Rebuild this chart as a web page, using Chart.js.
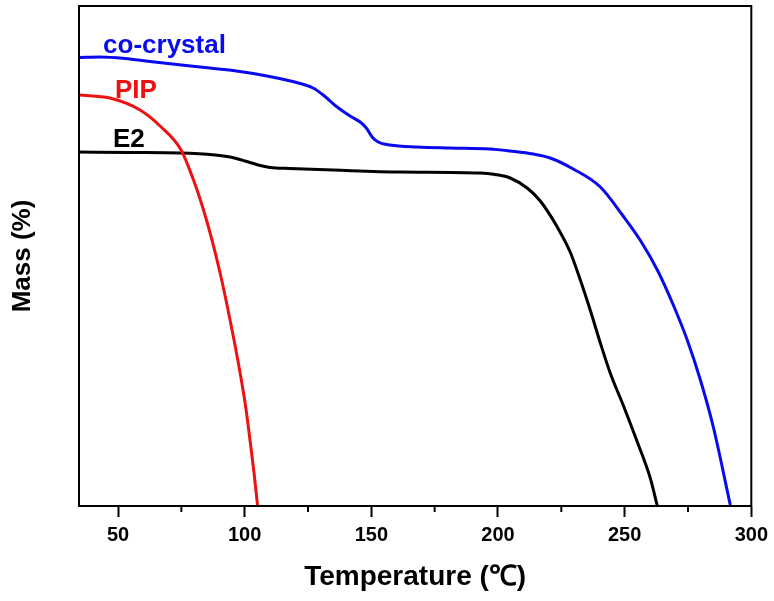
<!DOCTYPE html>
<html>
<head>
<meta charset="utf-8">
<script src="https://cdn.jsdelivr.net/npm/chart.js@4/dist/chart.umd.min.js"></script>
<style>
  body { margin: 0; background: #fff; }
  canvas { display: block; }
</style>
</head>
<body>
<canvas id="tga" width="774" height="601"></canvas>
<script>
// TGA curves
const pipTemp = [34.6, 46.8, 58.7, 66.6, 74.9, 79.8, 83.4, 87.1, 90.3, 93.2, 95.8, 98.2, 100.4, 102.1, 103.7, 105.1];
const pipMass = [82.2, 81.6, 79.2, 76.0, 71.2, 65.2, 59.8, 53.2, 46.6, 39.8, 33.2, 26.6, 19.8, 13.2, 6.6, 0];

const e2Temp = [34.6, 54.7, 74.5, 88.3, 94.2, 100.2, 105.3, 110.0, 117.9, 134.9, 161.4, 193.0, 198.9, 204.8, 211.5, 216.7, 223.4, 228.5, 232.5, 236.4, 240.4, 244.3, 249.4, 255.0, 260.1, 262.9];
const e2Mass = [70.8, 70.7, 70.6, 70.2, 69.8, 69.0, 68.2, 67.7, 67.5, 67.2, 66.8, 66.6, 66.3, 65.6, 63.6, 61.0, 55.8, 50.8, 45.2, 39.2, 32.6, 26.6, 20.2, 12.8, 5.6, 0];

const coTemp = [34.6, 42.9, 52.8, 62.6, 82.4, 95.4, 108.8, 121.9, 127.0, 131.0, 136.5, 141.6, 145.6, 148.0, 150.3, 152.7, 157.4, 168.1, 181.1, 196.9, 204.8, 213.9, 220.6, 229.7, 240.4, 249.4, 256.1, 262.9, 269.2, 274.7, 279.9, 285.0, 291.7];
const coMass = [89.7, 89.8, 89.5, 88.9, 87.8, 87.1, 86.0, 84.5, 83.6, 82.2, 79.8, 78.0, 76.8, 75.6, 73.8, 72.8, 72.2, 71.8, 71.6, 71.4, 71.0, 70.4, 69.6, 67.4, 63.8, 58.0, 53.2, 47.2, 40.2, 33.2, 25.2, 15.8, 0.2];

const xTicks = [50, 75, 100, 125, 150, 175, 200, 225, 250, 275, 300];
const xMin = 34.6, xMax = 300;

// in-plot labels: text, colour, anchor (temperature, mass)
const labelText = ['co-crystal', 'PIP', 'E2'];
const labelColor = ['#0a0aee', '#ee1111', '#000000'];
const labelT = [44.1, 48.8, 48.0];
const labelM = [90.7, 81.6, 71.9];

const toPoints = (xs, ys) => xs.map((x, i) => ({ x: x, y: ys[i] }));
const isMajor = v => v % 50 === 0;

// frame around the plot + short minor ticks
const framePlugin = {
    id: 'frame',
    afterDraw(chart) {
        const { ctx, chartArea: a } = chart;
        const xs = chart.scales.x;
        ctx.save();
        ctx.strokeStyle = '#000';
        ctx.lineWidth = 2;
        ctx.strokeRect(a.left, a.top, a.right - a.left, a.bottom - a.top);
        ctx.beginPath();
        xTicks.filter(v => !isMajor(v)).forEach(v => {
            const px = xs.getPixelForValue(v);
            ctx.moveTo(px, a.bottom);
            ctx.lineTo(px, a.bottom + 6);
        });
        ctx.stroke();
        ctx.restore();
    }
};

const labelPlugin = {
    id: 'seriesLabels',
    afterDatasetsDraw(chart) {
        const { ctx } = chart;
        const xs = chart.scales.x, ys = chart.scales.y;
        ctx.save();
        ctx.font = 'bold 26px "Liberation Sans", Arial, sans-serif';
        ctx.textBaseline = 'alphabetic';
        ctx.textAlign = 'left';
        labelText.forEach((t, i) => {
            ctx.fillStyle = labelColor[i];
            ctx.fillText(t, xs.getPixelForValue(labelT[i]), ys.getPixelForValue(labelM[i]));
        });
        ctx.restore();
    }
};

const lineStyle = color => ({
    borderColor: color,
    backgroundColor: color,
    borderWidth: 3,
    pointRadius: 0,
    fill: false,
    cubicInterpolationMode: 'monotone'
});

new Chart(document.getElementById('tga'), {
    type: 'line',
    data: {
        datasets: [
            { label: 'PIP', data: toPoints(pipTemp, pipMass), ...lineStyle('#ee1111') },
            { label: 'E2', data: toPoints(e2Temp, e2Mass), ...lineStyle('#000000') },
            { label: 'co-crystal', data: toPoints(coTemp, coMass), ...lineStyle('#0a0aee') }
        ]
    },
    options: {
        responsive: false,
        animation: false,
        layout: { padding: { top: 6, right: 22, left: 0, bottom: 0 } },
        plugins: {
            legend: { display: false },
            tooltip: { enabled: false }
        },
        scales: {
            x: {
                type: 'linear',
                min: xMin,
                max: xMax,
                afterBuildTicks: s => { s.ticks = xTicks.map(v => ({ value: v })); },
                afterFit: s => { s.height = 95; },
                grid: {
                    drawOnChartArea: false,
                    tickLength: 11,
                    tickWidth: 2,
                    tickColor: c => (c.tick && isMajor(c.tick.value)) ? '#000' : 'rgba(0,0,0,0)'
                },
                border: { color: '#000', width: 2 },
                ticks: {
                    color: '#000',
                    padding: 6,
                    maxRotation: 0,
                    autoSkip: false,
                    font: { family: '"Liberation Sans", Arial', weight: 'bold', size: 20 },
                    callback: v => isMajor(v) ? String(v) : ''
                },
                title: {
                    display: true,
                    text: 'Temperature (℃)',
                    color: '#000',
                    padding: { top: 0, bottom: 7 },
                    font: { family: '"Liberation Sans", Arial', weight: 'bold', size: 28 }
                }
            },
            y: {
                min: 0,
                max: 100,
                afterFit: s => { s.width = 79; },
                grid: { display: false },
                border: { color: '#000', width: 2 },
                ticks: { display: false },
                title: {
                    display: true,
                    text: 'Mass (%)',
                    color: '#000',
                    padding: { top: 7, bottom: 0 },
                    font: { family: '"Liberation Sans", Arial', weight: 'bold', size: 26 }
                }
            }
        }
    },
    plugins: [framePlugin, labelPlugin]
});
</script>
</body>
</html>
